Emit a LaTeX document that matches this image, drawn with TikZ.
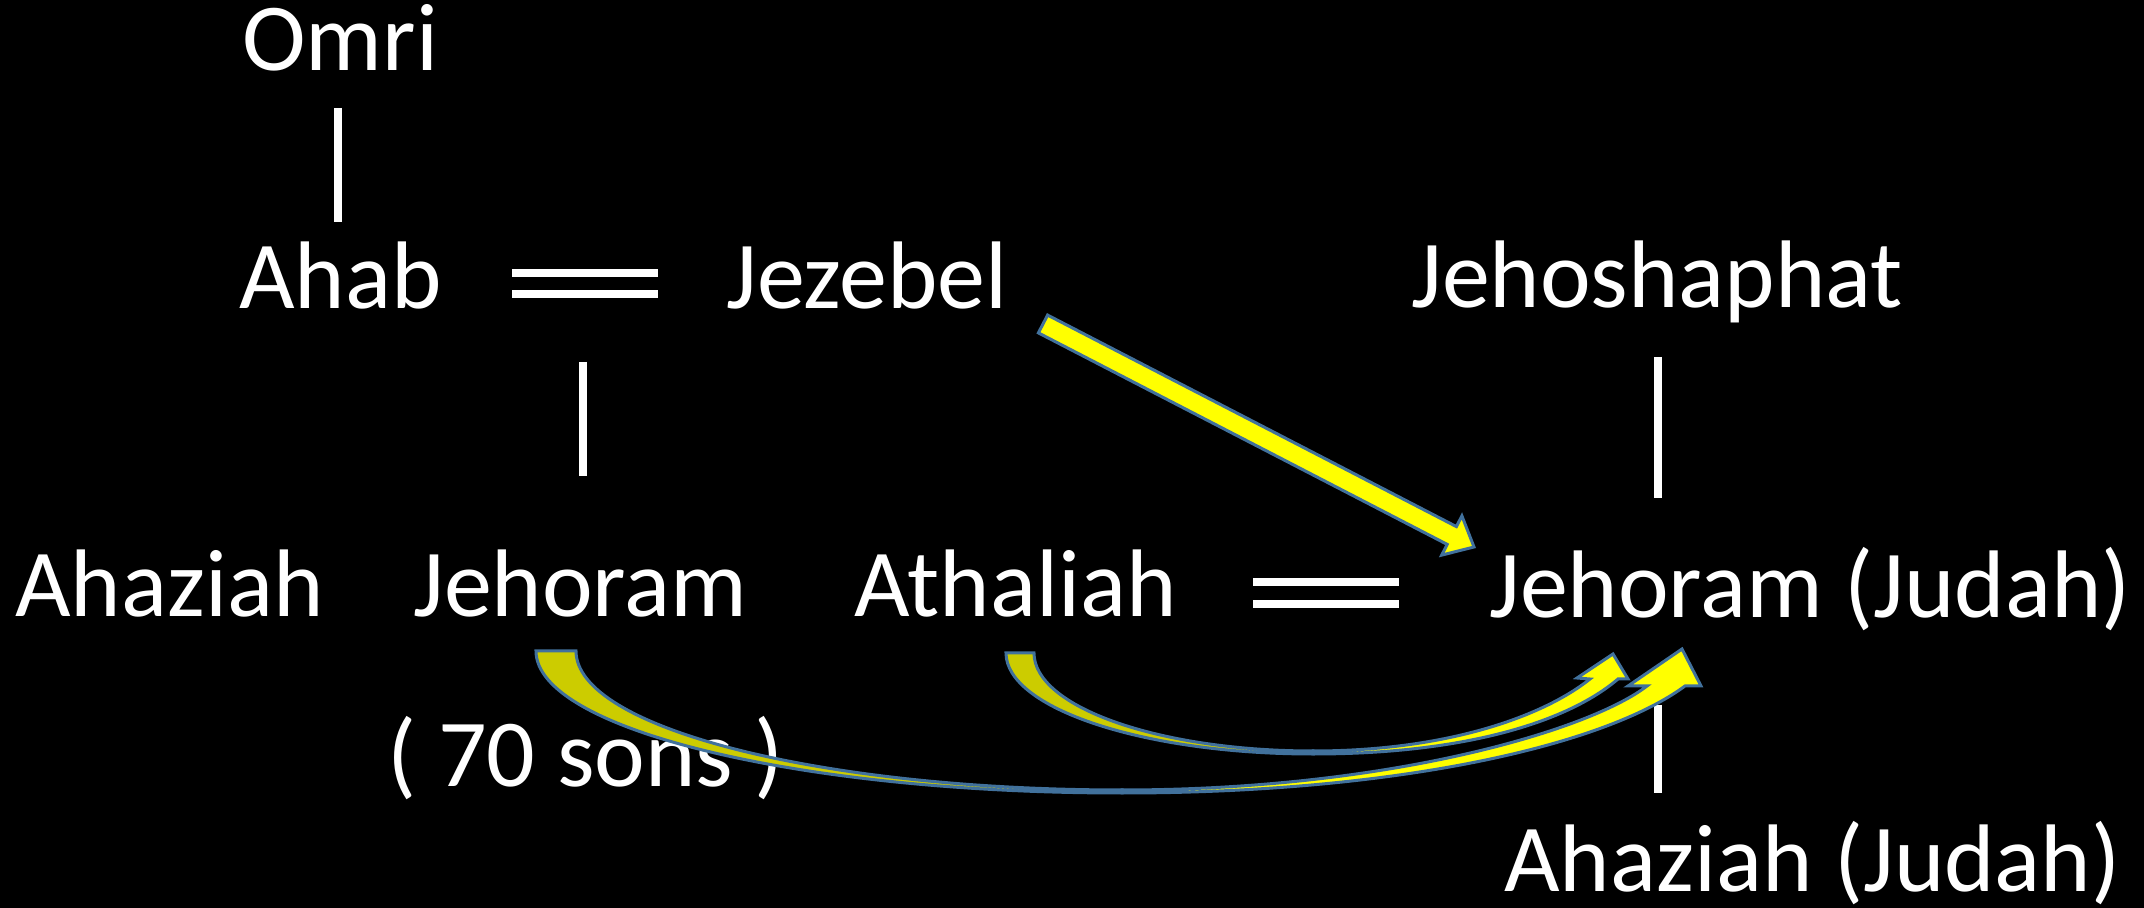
\documentclass[tikz,border=0pt]{standalone}
\usepackage{fontspec}
\setmainfont{Carlito}
\definecolor{arrowline}{RGB}{65,113,156}
\definecolor{darkyel}{RGB}{204,204,0}
\definecolor{brightyel}{RGB}{255,255,0}
\begin{document}
\begin{tikzpicture}[x=0.5pt,y=-0.5pt,
  lbl/.style={anchor=base west,inner sep=0pt,text=white,font=\fontsize{48}{58}\selectfont},
  rule/.style={white,line width=4.4pt},
  bar/.style={white,line width=4pt},
  yarrow/.style={draw=arrowline,line width=1.5pt,line join=miter}]
\fill[black] (0,0) rectangle (2144,908);
\useasboundingbox (0,0) rectangle (2144,908);

% names
\node[lbl] (omri) at (242,71) {Omri};
\node[lbl] (ahab) at (239,309) {Ahab};
\node[lbl] (jezebel) at (726,309) {Jezebel};
\node[lbl] (jehoshaphat) at (1411,308) {Jehoshaphat};
\node[lbl] (ahaziah) at (15,617) {Ahaziah};
\node[lbl] (jehoram) at (413,617) {Jehoram};
\node[lbl] (athaliah) at (854,617) {Athaliah};
\node[lbl] (jehoramj) at (1489,618) {Jehoram (Judah)};
\node[lbl] (sons) at (387,787) {( 70 sons )};
\node[lbl] (ahaziahj) at (1504,892) {Ahaziah (Judah)};

% line end points
\coordinate (l1a) at (338,108); \coordinate (l1b) at (338,222);
\coordinate (l2a) at (583,362); \coordinate (l2b) at (583,476);
\coordinate (l3a) at (1658,357); \coordinate (l3b) at (1658,498);
\coordinate (l4a) at (1658,705); \coordinate (l4b) at (1658,793);
\draw[rule] (l1a) -- (l1b);
\draw[rule] (l2a) -- (l2b);
\draw[rule] (l3a) -- (l3b);
\draw[rule] (l4a) -- (l4b);

% marriage bars
\coordinate (m1a) at (512,273); \coordinate (m1b) at (658,273);
\coordinate (m1c) at (512,294); \coordinate (m1d) at (658,294);
\coordinate (m2a) at (1253,582); \coordinate (m2b) at (1399,582);
\coordinate (m2c) at (1253,604); \coordinate (m2d) at (1399,604);
\draw[bar] (m1a) -- (m1b);
\draw[bar] (m1c) -- (m1d);
\draw[bar] (m2a) -- (m2b);
\draw[bar] (m2c) -- (m2d);

% straight arrow Jezebel -> Jehoram (Judah)
\filldraw[yarrow,fill=brightyel]
  (1047.6,315.1) -- (1456.4,526.6) -- (1461.9,515.9) -- (1474,547)
  -- (1441.7,555.1) -- (1447.2,544.4) -- (1038.4,332.9) -- cycle;

% curved arrow from Jehoram (big)
\filldraw[yarrow,fill=darkyel]
  (536,651) -- (576,651) .. controls (576,728) and (821,790) .. (1122,790)
  -- (1122,793) .. controls (798,793) and (536,729) .. (536,651) -- cycle;
\filldraw[yarrow,fill=brightyel]
  (1122,793) .. controls (1400,793) and (1605,745) .. (1685,686)
  -- (1701,686) -- (1682,649) -- (1628,686) -- (1647,686)
  .. controls (1590,730) and (1390,790) .. (1122,790) -- cycle;

% curved arrow from Athaliah (small)
\filldraw[yarrow,fill=darkyel]
  (1006,653) -- (1034,653) .. controls (1034,707) and (1159,751) .. (1313,751)
  -- (1313,754) .. controls (1143,754) and (1006,708) .. (1006,653) -- cycle;
\filldraw[yarrow,fill=brightyel]
  (1313,754) .. controls (1470,754) and (1570,720) .. (1618,679)
  -- (1628,679) -- (1613,654) -- (1577,678) -- (1590,679)
  .. controls (1545,715) and (1450,751) .. (1313,751) -- cycle;
\end{tikzpicture}
\end{document}
